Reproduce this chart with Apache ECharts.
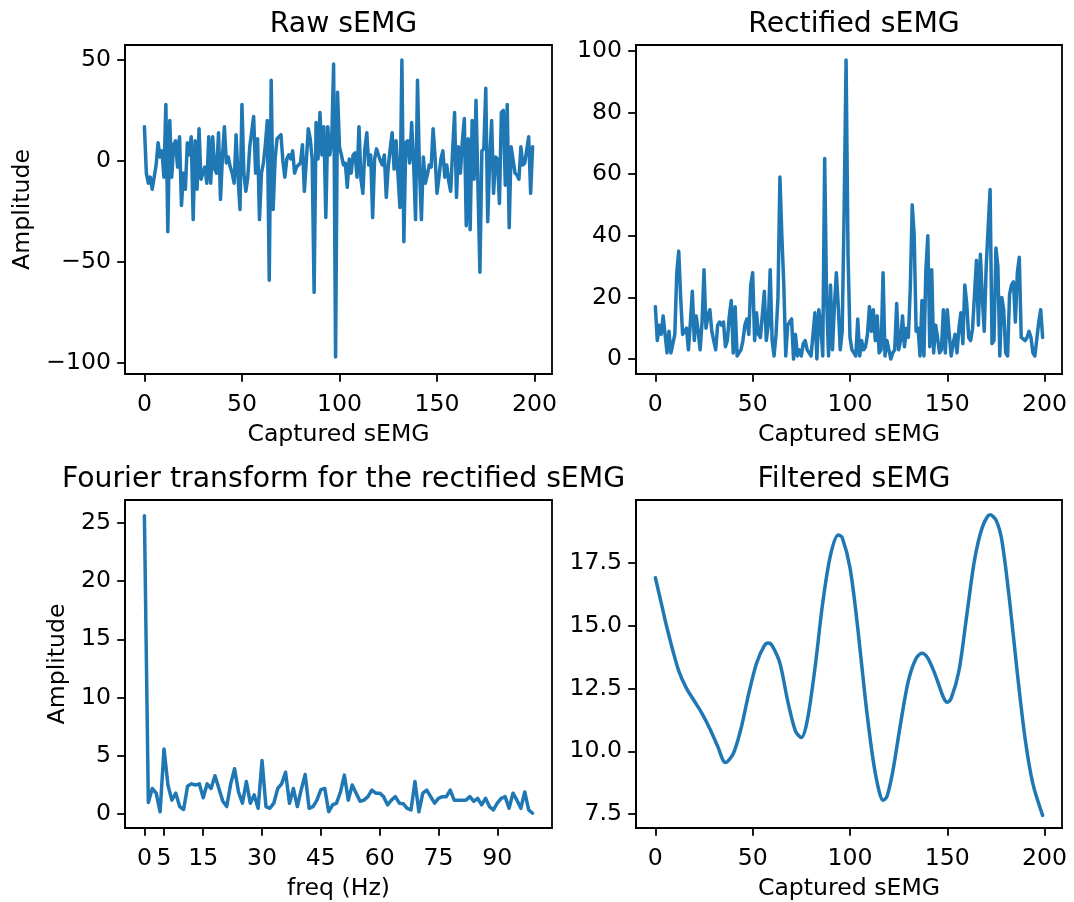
<!DOCTYPE html>
<html>
<head>
<meta charset="utf-8">
<script src="https://cdn.jsdelivr.net/npm/echarts@6/dist/echarts.min.js"></script>
<style>
  html, body { margin: 0; padding: 0; background: #fff; }
  #chart { width: 1074px; height: 902px; }
</style>
</head>
<body>
<div id="chart"></div>
<script>
// ---------------- data ----------------
const rawSEMG = [
  17, -6, -11, -8, -14, -14, -2, 9, 2, 5,
  -8, 28, -35, 20, -8, 8, 10, -3, 12, -22,
  -6, -14, 9, 3, 12, -29, 10, -14, 16, -9,
  -9, -3, -11, 12, -11, 12, -4, -6, 14, -19,
  2, 17, -1, 2, -3, -6, -11, 13, -8, -24,
  28, -6, -15, -8, 7, 7, 22, -6, 11, -29,
  -6, -1, 8, 20, -59, 40, -24, 1, 11, 12,
  13, 0, -8, 1, 3, 1, 5, -6, -3, -2,
  -1, 8, -15, 0, 16, 11, 1, -65, 19, 1,
  24, 3, 17, -28, 17, 3, 9, 48, -97, 34,
  7, 3, -2, -1, -13, 1, -6, 3, 4, -8,
  17, -9, -16, 6, 14, -2, 3, -28, 1, 6,
  3, 0, -2, 3, -18, -3, 6, 14, -4, 10,
  -7, -23, 50, -40, 9, 10, -1, 19, -1, -29,
  40, -4, -29, 2, -11, -7, -2, -3, 16, 2,
  -16, -8, 1, 5, -8, -2, -10, -15, 5, 24,
  -18, 7, -6, 10, 21, -32, 11, -34, 20, -9,
  30, 30, -55, 5, 6, 36, -30, 1, 20, -16,
  2, 1, -21, 24, 25, -12, 28, -33, 7, 7,
  -6, -7, -9, 7, -2, -1, -1, 12, -16, 7
];

const rectifiedSEMG = [
  17, 6, 11, 8, 14, 14, 2, 9, 2, 5,
  8, 28, 35, 20, 8, 8, 10, 3, 12, 22,
  6, 14, 9, 3, 12, 29, 10, 14, 16, 9,
  9, 3, 11, 12, 11, 12, 4, 6, 14, 19,
  2, 17, 1, 2, 3, 6, 11, 13, 8, 24,
  28, 6, 15, 8, 7, 7, 22, 6, 11, 29,
  6, 1, 8, 20, 59, 40, 24, 1, 11, 12,
  13, 0, 8, 1, 3, 1, 5, 6, 3, 2,
  1, 8, 15, 0, 16, 11, 1, 65, 19, 1,
  24, 3, 17, 28, 17, 3, 9, 48, 97, 34,
  7, 3, 2, 1, 13, 1, 6, 3, 4, 8,
  17, 9, 16, 6, 14, 2, 3, 28, 1, 6,
  3, 0, 2, 3, 18, 3, 6, 14, 4, 10,
  7, 23, 50, 40, 9, 10, 1, 19, 1, 29,
  40, 4, 29, 2, 11, 7, 2, 3, 16, 2,
  16, 8, 1, 5, 8, 2, 10, 15, 5, 24,
  18, 7, 6, 10, 21, 32, 11, 34, 20, 9,
  30, 30, 55, 5, 6, 36, 30, 1, 20, 16,
  2, 1, 21, 24, 25, 12, 28, 33, 7, 7,
  6, 7, 9, 7, 2, 1, 1, 12, 16, 7
];

const fourierAmp = [
  25.6, 1.0, 2.2, 1.8, 0.2, 5.6, 2.5, 1.2, 1.8, 0.65,
  0.4, 2.4, 2.6, 2.5, 2.6, 1.4, 2.6, 2.2, 3.3, 2.2,
  1.1, 0.65, 2.6, 3.9, 1.9, 0.94, 2.8, 0.94, 1.65, 0.5,
  4.6, 0.65, 0.5, 0.94, 2.2, 2.6, 3.6, 0.94, 2.2, 0.65,
  2.1, 3.4, 0.5, 0.65, 1.2, 2.1, 2.2, 0.2, 0.8, 0.94,
  1.9, 3.35, 1.2, 2.5, 1.8, 1.1, 1.2, 1.5, 2.07, 1.8,
  1.8, 1.5, 0.8, 1.2, 1.5, 0.94, 0.9, 0.5, 0.37, 2.8,
  0.2, 1.8, 2.07, 1.5, 0.94, 1.36, 1.5, 1.5, 2.07, 1.2,
  1.2, 1.2, 1.2, 1.5, 1.1, 1.36, 0.8, 1.36, 0.65, 0.37,
  0.94, 1.36, 1.5, 0.5, 1.8, 1.2, 0.5, 1.9, 0.37, 0.08
];

const filteredX = [0, 3, 6, 9, 12, 16, 20, 24, 28, 32, 36, 40, 44, 48, 52, 56, 58, 60, 64, 68,
  72, 75, 78, 82, 86, 90, 94, 96, 100, 104, 108, 112, 115, 117, 119, 122, 126, 130, 134, 137,
  140, 144, 148, 150, 152, 156, 160, 164, 168, 172, 175, 178, 182, 186, 190, 194, 199];
const filteredY = [16.9, 15.9, 14.9, 14.0, 13.2, 12.5, 12.0, 11.5, 10.9, 10.2, 9.55, 9.9, 10.9, 12.3, 13.5, 14.2, 14.3, 14.2, 13.5, 12.0,
  10.8, 10.55, 11.2, 13.3, 15.9, 17.8, 18.6, 18.5, 17.3, 14.9, 12.0, 9.6, 8.4, 8.05, 8.2, 9.2, 11.1, 12.8, 13.7, 13.9,
  13.7, 13.0, 12.15, 11.95, 12.1, 13.2, 15.4, 17.6, 18.9, 19.4, 19.2, 18.4, 16.0, 13.1, 10.5, 8.7, 7.45];

const sampleTicks = [0, 50, 100, 150, 200];
const rawTicks = [-100, -50, 0, 50];
const rectTicks = [0, 20, 40, 60, 80, 100];
const freqTicks = [0, 5, 15, 30, 45, 60, 75, 90];
const fourierTicks = [0, 5, 10, 15, 20, 25];
const filteredTicks = [7.5, 10.0, 12.5, 15.0, 17.5];

const titles = ['Raw sEMG', 'Rectified sEMG', 'Fourier transform for the rectified sEMG', 'Filtered sEMG'];

// ---------------- chart ----------------
const FONT = 'DejaVu Sans';
const BLUE = '#1f77b4';
const LBL = 23.6;
const TTL = 28.3;

const grids = [
  { left: 125, top: 45, width: 427, height: 329 },
  { left: 636, top: 45, width: 426, height: 329 },
  { left: 125, top: 500, width: 427, height: 330 },
  { left: 636, top: 500, width: 426, height: 330 }
];

function fmt(dec) {
  return function (v) {
    let s = dec ? Number(v).toFixed(dec) : String(Math.round(v));
    return s.replace('-', '\u2212');
  };
}

function axis(kind, gi, min, max, ticks, name, nameGap, dec) {
  return {
    type: 'value', gridIndex: gi, min: min, max: max,
    position: kind === 'x' ? 'bottom' : 'left',
    axisLine: { show: true, onZero: false, lineStyle: { color: '#000', width: 1.8 } },
    axisTick: { show: true, length: 7.8, inside: false, customValues: ticks, lineStyle: { color: '#000', width: 1.8 } },
    axisLabel: { show: true, customValues: ticks, margin: kind === 'x' ? 19 : 14, color: '#000', fontFamily: FONT, fontSize: LBL, formatter: fmt(dec) },
    splitLine: { show: false },
    name: name || '', nameLocation: 'middle', nameGap: nameGap || 0,
    nameTextStyle: { color: '#000', fontFamily: FONT, fontSize: LBL }
  };
}

const rawData = rawSEMG.map((v, i) => [i, v]);
const rectData = rectifiedSEMG.map((v, i) => [i, v]);
const fftData = fourierAmp.map((v, i) => [i, v]);
const filtData = filteredX.map((x, i) => [x, filteredY[i]]);

const lineStyle = { color: BLUE, width: 3.5, join: 'round', cap: 'round' };

const option = {
  animation: false,
  backgroundColor: '#fff',
  title: titles.map((t, i) => ({
    text: t,
    left: grids[i].left + grids[i].width / 2,
    top: grids[i].top - 39.5,
    textAlign: 'center',
    textStyle: { fontFamily: FONT, fontSize: TTL, fontWeight: 'normal', color: '#000' }
  })),
  grid: grids.map(g => Object.assign({ show: true, borderColor: '#000', borderWidth: 1.8, backgroundColor: 'transparent', containLabel: false }, g)),
  xAxis: [
    axis('x', 0, -9.95, 208.95, sampleTicks, 'Captured sEMG', 49),
    axis('x', 1, -9.95, 208.95, sampleTicks, 'Captured sEMG', 49),
    axis('x', 2, -4.95, 103.95, freqTicks, 'freq (Hz)', 49),
    axis('x', 3, -9.95, 208.95, sampleTicks, 'Captured sEMG', 49)
  ],
  yAxis: [
    axis('y', 0, -105.4, 57.4, rawTicks, 'Amplitude', 90),
    axis('y', 1, -4.85, 101.85, rectTicks, '', 0),
    axis('y', 2, -1.19, 26.96, fourierTicks, 'Amplitude', 55),
    axis('y', 3, 6.95, 19.99, filteredTicks, '', 0, 1)
  ],
  series: [
    { type: 'line', xAxisIndex: 0, yAxisIndex: 0, data: rawData, showSymbol: false, lineStyle: lineStyle, itemStyle: { color: BLUE } },
    { type: 'line', xAxisIndex: 1, yAxisIndex: 1, data: rectData, showSymbol: false, lineStyle: lineStyle, itemStyle: { color: BLUE } },
    { type: 'line', xAxisIndex: 2, yAxisIndex: 2, data: fftData, showSymbol: false, lineStyle: lineStyle, itemStyle: { color: BLUE } },
    { type: 'line', xAxisIndex: 3, yAxisIndex: 3, data: filtData, showSymbol: false, smooth: 0.3, lineStyle: lineStyle, itemStyle: { color: BLUE } }
  ]
};

const chart = echarts.init(document.getElementById('chart'), null, { renderer: 'canvas' });
chart.setOption(option);
</script>
</body>
</html>
